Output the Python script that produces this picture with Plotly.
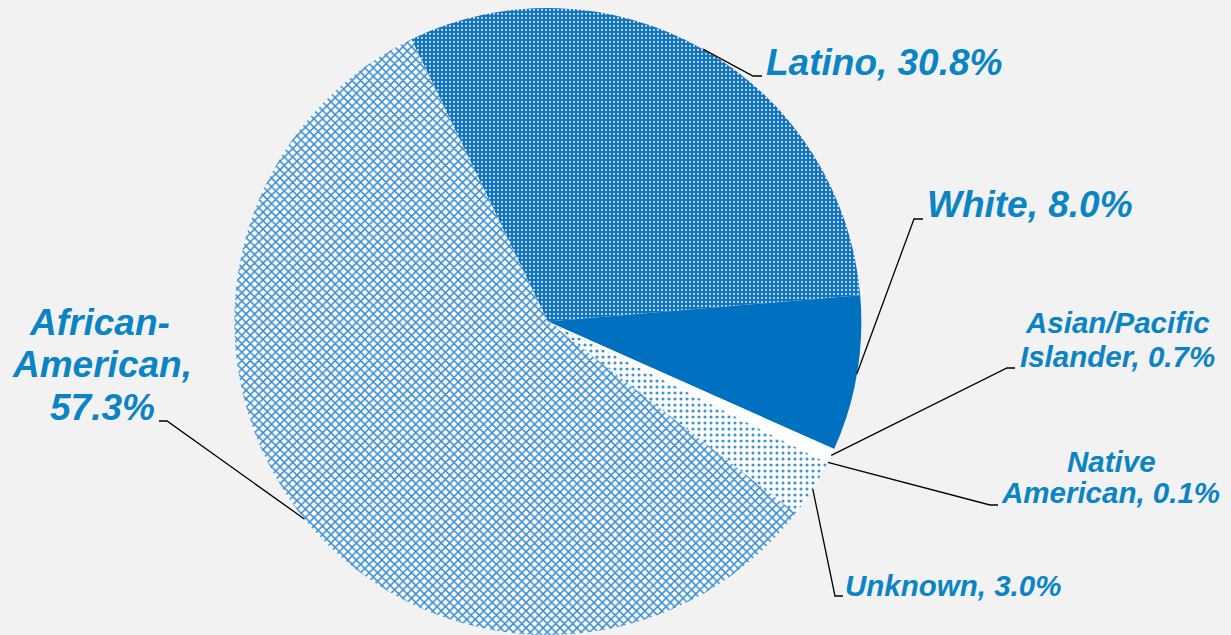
import math
import plotly.graph_objects as go

# ---- data ----
groups = ["Latino", "White", "Asian/Pacific Islander", "Native American", "Unknown", "African-American"]
shares = [30.8, 8.0, 0.7, 0.1, 3.0, 57.3]
label_lines = [
    ["Latino, 30.8%"],
    ["White, 8.0%"],
    ["Asian/Pacific", "Islander, 0.7%"],
    ["Native", "American, 0.1%"],
    ["Unknown, 3.0%"],
    ["African-", "American,", "57.3%"],
]

W, H = 1231, 635
MT, MB = 8, 0
ROT = -25.8
DOM_X = [0.145, 0.745]
DOM_Y = [0.0, 1.0]

TXT = "#0B84C5"
FONT = "Liberation Sans, Arial, sans-serif"

# per-slice styling
bg = ["#0E71BF", "#0070C0", "#FFFFFF", "#FFFFFF", "#FFFFFF", "#FFFFFF"]
fg = ["#B8D8F2", "#0070C0", "#FFFFFF", "#FFFFFF", "#3F93D3", "#3A8DCF"]
shp = [".", "", "", "", ".", "x"]
psize = [4, 8, 8, 8, 6, 6]
psol = [0.25, 0.3, 0.3, 0.3, 0.22, 0.45]

fig = go.Figure(go.Pie(
    labels=groups, values=shares, sort=False, direction="clockwise",
    rotation=ROT, textinfo="none", hoverinfo="label+percent",
    domain=dict(x=DOM_X, y=DOM_Y),
    marker=dict(colors=bg, line=dict(width=0),
                pattern=dict(shape=shp, fgcolor=fg, bgcolor=bg, size=psize,
                             solidity=psol, fillmode="replace")),
    showlegend=False,
))

# pixel geometry of the pie (derived from the layout)
plot_h = H - MT - MB
cx = W * (DOM_X[0] + DOM_X[1]) / 2
cy = MT + plot_h * (1 - (DOM_Y[0] + DOM_Y[1]) / 2)
r = min(W * (DOM_X[1] - DOM_X[0]), plot_h * (DOM_Y[1] - DOM_Y[0])) / 2


def px2paper(x, y):
    return x / W, (H - MB - y) / plot_h


total = sum(shares)
mids = []
cum = 0.0
for v in shares:
    a = math.radians(ROT + 360 * (cum + v / 2) / total)
    mids.append((cx + r * math.sin(a), cy - r * math.cos(a)))
    cum += v

# leader elbows: (elbow x, elbow y, end x)
elbows = [
    (753, 76, 762),
    (914, 219, 923),
    (1007, 368, 1015),
    (990, 505, 998),
    (835, 596, 843),
    (167, 421, 159),
]
# label placement: (anchor x list, baseline y list, xanchor, font size)
places = [
    ([764], [75], "left", 37),
    ([925], [217], "left", 37),
    ([1117, 1117], [333, 366.5], "center", 29.5),
    ([1111, 1110], [471.5, 503], "center", 29.5),
    ([843], [596], "left", 29.5),
    ([99, 102, 102.5], [335, 377, 420], "center", 37),
]

shapes = []
annotations = []
for (sx, sy), (ex, ey, tx), (xs, ys, xa, fs), lines in zip(mids, elbows, places, label_lines):
    p0 = px2paper(sx, sy)
    p1 = px2paper(ex, ey)
    p2 = px2paper(tx, ey)
    shapes.append(dict(type="path", xref="paper", yref="paper",
                       path=f"M {p0[0]} {p0[1]} L {p1[0]} {p1[1]} L {p2[0]} {p2[1]}",
                       line=dict(color="#000000", width=1.3)))
    for xpx, base, t in zip(xs, ys, lines):
        ax_, ay_ = px2paper(xpx, base - 0.3465 * fs)
        annotations.append(dict(x=ax_, y=ay_, xref="paper", yref="paper", text=t,
                                showarrow=False, xanchor=xa, yanchor="middle", align="center",
                                font=dict(family=FONT, size=fs, color=TXT,
                                          weight="bold", style="italic")))

fig.update_layout(
    width=W, height=H,
    margin=dict(l=0, r=0, t=MT, b=MB, pad=0),
    paper_bgcolor="#F2F2F2", plot_bgcolor="#F2F2F2",
    shapes=shapes, annotations=annotations,
)

fig.write_html("out.html", config={"displayModeBar": False},
               post_script="document.body.style.margin='0px';")
